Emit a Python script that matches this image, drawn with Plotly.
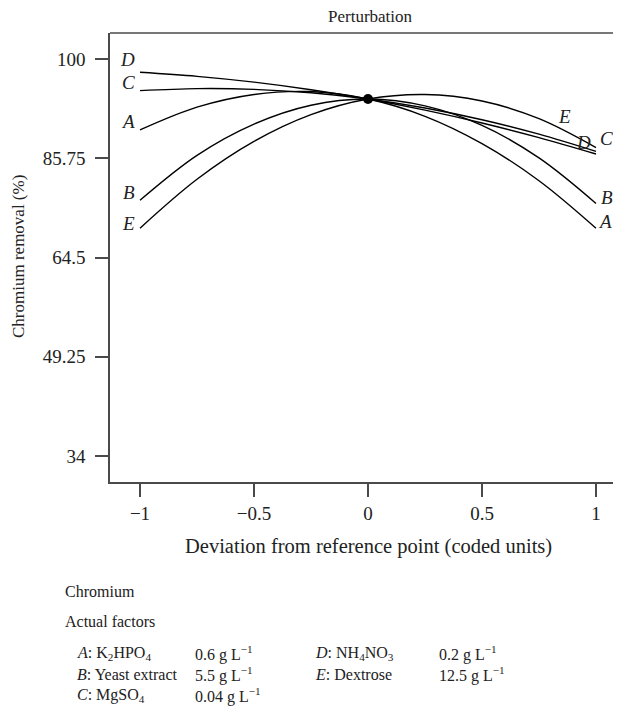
import plotly.graph_objects as go

# ---- data ----
x_coded = [-1, -0.75, -0.5, -0.25, 0, 0.25, 0.5, 0.75, 1]
curve_A = [84.1, 87.6, 89.55, 90.0, 88.85, 86.2, 82.0, 76.3, 69.0]
curve_B = [73.3, 80.2, 85.0, 87.9, 88.85, 87.8, 84.8, 79.8, 72.8]
curve_C = [90.14, 90.45, 90.34, 89.81, 88.85, 87.47, 85.67, 83.45, 80.8]
curve_D = [92.96, 92.34, 91.45, 90.28, 88.85, 87.14, 85.17, 82.92, 80.4]
curve_E = [69.0, 76.52, 82.34, 86.45, 88.85, 89.55, 88.55, 85.84, 81.4]
ref_x = [0]
ref_y = [88.85]

ytick_vals = [34, 49.25, 64.5, 79.75, 95]
ytick_text = ["34", "49.25", "64.5", "85.75", "100"]
xtick_vals = [-1, -0.5, 0, 0.5, 1]
xtick_text = ["\u22121", "\u22120.5", "0", "0.5", "1"]

factor_rows = [
    ("<i>A</i>: K<sub>2</sub>HPO<sub>4</sub>", "0.6 g L<sup>\u22121</sup>"),
    ("<i>B</i>: Yeast extract", "5.5 g L<sup>\u22121</sup>"),
    ("<i>C</i>: MgSO<sub>4</sub>", "0.04 g L<sup>\u22121</sup>"),
    ("<i>D</i>: NH<sub>4</sub>NO<sub>3</sub>", "0.2 g L<sup>\u22121</sup>"),
    ("<i>E</i>: Dextrose", "12.5 g L<sup>\u22121</sup>"),
]

FONT = "Liberation Serif"
OFF = 8                      # page body margin
W, H = 621 - 2 * OFF, 723 - 2 * OFF
L, T = 110 - OFF, 33 - OFF   # plot area left/top in figure px
BOT = 482 - OFF              # plot area bottom in figure px
R, B = 0, H - BOT

def px(xp):                  # page x -> paper
    return (xp - OFF - L) / (W - L - R)

def py(yp):                  # page y -> paper
    return (BOT - (yp - OFF)) / (BOT - T)

fig = go.Figure()
series = {"A": curve_A, "B": curve_B, "C": curve_C, "D": curve_D, "E": curve_E}
for name, ys in series.items():
    fig.add_trace(go.Scatter(x=x_coded, y=ys, mode="lines", name=name,
                             line=dict(color="black", width=1.4, shape="spline", smoothing=1.0),
                             showlegend=False, hoverinfo="skip"))
fig.add_trace(go.Scatter(x=ref_x, y=ref_y, mode="markers",
                         marker=dict(color="black", size=10), showlegend=False))

lab_font = dict(family=FONT, size=19, color="#222")
left_off = {"D": (-3, 13), "C": (-3, 8), "A": (-3, 8), "B": (-3, 8), "E": (-3, 5)}
for name, ys in series.items():
    dx, dy = left_off[name]
    fig.add_annotation(x=x_coded[0], y=ys[0], text=f"<i>{name}</i>", showarrow=False,
                       xanchor="right", yanchor="middle", xshift=dx, yshift=dy, font=lab_font)
right_off = {"E": (-32, 31), "D": (-13, 12), "C": (10, 13), "B": (11, 6), "A": (9, 7)}
for name, ys in series.items():
    dx, dy = right_off[name]
    fig.add_annotation(x=x_coded[-1], y=ys[-1], text=f"<i>{name}</i>", showarrow=False,
                       xanchor="center", yanchor="middle", xshift=dx, yshift=dy, font=lab_font)

txt = dict(family=FONT, size=16, color="#222")
fig.add_annotation(xref="paper", yref="paper", x=px(370), y=py(17), text="Perturbation",
                   showarrow=False, xanchor="center", yanchor="middle",
                   font=dict(family=FONT, size=17, color="#222"))
fig.add_annotation(xref="paper", yref="paper", x=px(18), y=py(257), text="Chromium removal (%)",
                   textangle=-90, showarrow=False, xanchor="center", yanchor="middle",
                   font=dict(family=FONT, size=17, color="#222"))
fig.add_annotation(xref="paper", yref="paper", x=px(368), y=py(546),
                   text="Deviation from reference point (coded units)",
                   showarrow=False, xanchor="center", yanchor="middle",
                   font=dict(family=FONT, size=20.5, color="#222"))
fig.add_annotation(xref="paper", yref="paper", x=px(63), y=py(591), text="Chromium",
                   showarrow=False, xanchor="left", yanchor="middle", font=txt)
fig.add_annotation(xref="paper", yref="paper", x=px(63), y=py(621), text="Actual factors",
                   showarrow=False, xanchor="left", yanchor="middle", font=txt)
row_y = [653, 674, 695]
for i, (lab, val) in enumerate(factor_rows):
    col = 0 if i < 3 else 1
    yy = row_y[i % 3]
    xl, xv = (75, 193) if col == 0 else (313, 437)
    fig.add_annotation(xref="paper", yref="paper", x=px(xl), y=py(yy), text=lab,
                       showarrow=False, xanchor="left", yanchor="middle", font=txt)
    fig.add_annotation(xref="paper", yref="paper", x=px(xv), y=py(yy), text=val,
                       showarrow=False, xanchor="left", yanchor="middle", font=txt)

axis_line = "#4a4a4a"
# top frame line (instead of axis mirror)
fig.add_shape(type="line", xref="paper", yref="paper", x0=0, x1=1, y0=1, y1=1,
              line=dict(color=axis_line, width=1.5))

tick_font = dict(family=FONT, size=19, color="#222")
x_px_per_unit = 228.0
x_lo = -1 - (140 - 110) / x_px_per_unit
x_hi = x_lo + (W - L - R) / x_px_per_unit
fig.update_xaxes(range=[x_lo, x_hi], tickvals=xtick_vals, ticktext=xtick_text,
                 showgrid=False, zeroline=False, showline=True, mirror=False,
                 linecolor=axis_line, linewidth=1.5, ticks="outside", ticklen=13,
                 tickwidth=1.5, tickcolor=axis_line, tickfont=tick_font)
fig.update_yaxes(range=[30.0, 99.0], tickvals=ytick_vals, ticktext=ytick_text,
                 showgrid=False, zeroline=False, showline=True, mirror=False,
                 linecolor=axis_line, linewidth=1.5, ticks="outside", ticklen=13,
                 tickwidth=1.5, tickcolor=axis_line, tickfont=tick_font,
                 ticklabelstandoff=6)
fig.update_layout(width=W, height=H, margin=dict(l=L, r=R, t=T, b=B, autoexpand=False),
                  plot_bgcolor="white", paper_bgcolor="white")
fig.write_html("out.html")
